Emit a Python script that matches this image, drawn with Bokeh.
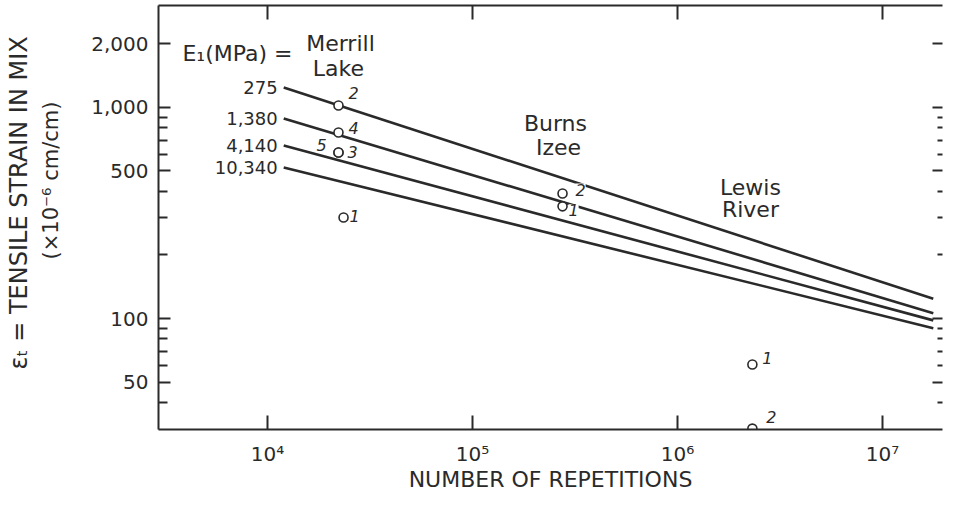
import numpy as np
from bokeh.plotting import figure
from bokeh.models import LogAxis, FixedTicker, NumeralTickFormatter, Label, Range1d, ColumnDataSource, Title
from bokeh.embed import file_html
from bokeh.resources import INLINE
from bokeh.core.properties import value

FONT = "DejaVu Sans"
INK = "#2a2a2a"

# ---------------- data ----------------
modulus_labels = ["275", "1,380", "4,140", "10,340"]
line_reps = [1.2e4, 1.77e7]
strain_275 = [1244, 124]
strain_1380 = [887, 106]
strain_4140 = [661, 98]
strain_10340 = [520, 90]

merrill_reps = [2.22e4, 2.22e4, 2.22e4, 2.22e4, 2.35e4]
merrill_strain = [1022, 761, 612, 612, 301]
merrill_ids = ["2", "4", "3", "5", "1"]

burns_reps = [2.75e5, 2.75e5]
burns_strain = [391, 340]
burns_ids = ["2", "1"]

lewis_reps = [2.32e6, 2.32e6]
lewis_strain = [60.6, 30.1]
lewis_ids = ["1", "2"]

x_ticks = [1e4, 1e5, 1e6, 1e7]
x_tick_labels = ["10\u2074", "10\u2075", "10\u2076", "10\u2077"]
y_ticks = [50, 100, 500, 1000, 2000]
y_minor_ticks = [40, 60, 70, 80, 90, 200, 300, 400, 600, 700, 800, 900]

site_words = ["Merrill", "Lake", "Burns", "Izee", "Lewis", "River"]
site_word_x = [2.27e4, 2.22e4, 2.54e5, 2.63e5, 2.27e6, 2.27e6]
site_word_y = [2010, 1531, 840, 646, 418, 329]

# label offsets (screen px) for the specimen numbers
merrill_dx = [15, 15, 14, -17, 11]
merrill_dy = [-12, -4, 0, -7, -2]
burns_dx = [18, 11]
burns_dy = [-4, 4]
lewis_dx = [15, 19]
lewis_dy = [-6, -12]

# ---------------- figure ----------------
p = figure(width=943, height=494, x_axis_type="log", y_axis_type="log",
           x_range=Range1d(2940, 1.963e7), y_range=Range1d(29.8, 3041),
           output_backend="svg", toolbar_location=None,
           min_border_left=158, min_border_right=1, min_border_top=5,
           min_border_bottom=65)
p.grid.visible = False
p.outline_line_color = None
p.background_fill_color = "white"
p.border_fill_color = "white"

xt = FixedTicker(ticks=x_ticks, minor_ticks=[])
yt = FixedTicker(ticks=y_ticks, minor_ticks=y_minor_ticks)

xa = p.xaxis[0]
xa.ticker = xt
xa.major_label_overrides = dict(zip(x_ticks, x_tick_labels))
xa.major_tick_in = 14
xa.major_tick_out = 0
xa.minor_tick_in = 0
xa.minor_tick_out = 0
xa.major_label_standoff = 12
xa.major_label_text_font = FONT
xa.major_label_text_font_size = "20px"
xa.major_label_text_color = INK
xa.axis_label = "NUMBER OF REPETITIONS"
xa.axis_label_text_font = FONT
xa.axis_label_text_font_size = "22px"
xa.axis_label_text_font_style = "normal"
xa.axis_label_text_color = INK
xa.axis_label_standoff = -2

ya = p.yaxis[0]
ya.ticker = yt
ya.formatter = NumeralTickFormatter(format="0,0")
ya.major_tick_in = 12
ya.major_tick_out = 0
ya.minor_tick_in = 9
ya.minor_tick_out = 0
ya.major_label_standoff = 10
ya.major_label_text_font = FONT
ya.major_label_text_font_size = "20px"
ya.major_label_text_color = INK

top = LogAxis(ticker=xt, major_tick_in=14, major_tick_out=0, minor_tick_in=0, minor_tick_out=0,
              major_label_text_font_size="1px", major_label_text_alpha=0, major_label_standoff=0)
right = LogAxis(ticker=yt, major_tick_in=10, major_tick_out=0, minor_tick_in=5, minor_tick_out=0,
                major_label_text_font_size="1px", major_label_text_alpha=0, major_label_standoff=0)
p.add_layout(top, "above")
p.add_layout(right, "right")

for a in [xa, ya, top, right]:
    a.axis_line_width = 2
    a.axis_line_color = INK
    a.major_tick_line_width = 2
    a.major_tick_line_color = INK
    a.minor_tick_line_width = 2
    a.minor_tick_line_color = INK
right.axis_line_color = None

# y-axis title in two lines (units line nearest the axis), with a blank spacer
p.add_layout(Title(text=" ", text_font_size="1px", standoff=21), "left")
p.add_layout(Title(text="(\u00d710\u207b\u2076 cm/cm)", align="left", offset=170,
                   standoff=4, text_font=FONT, text_font_size="21px",
                   text_font_style="normal", text_color=INK), "left")
p.add_layout(Title(text="\u03b5\u209c = TENSILE STRAIN IN MIX", align="left", offset=60,
                   standoff=4, text_font=FONT, text_font_size="24px",
                   text_font_style="normal", text_color=INK), "left")

# ---------------- fatigue lines ----------------
for ys in [strain_275, strain_1380, strain_4140, strain_10340]:
    p.line(line_reps, ys, line_width=2.6, line_color=INK)

starts = [s[0] for s in [strain_275, strain_1380, strain_4140, strain_10340]]
p.text(x=[line_reps[0]] * len(starts), y=starts, text=modulus_labels, x_offset=-6,
       text_align="right", text_baseline="middle", text_font=value(FONT),
       text_font_size="18px", text_color=INK)

# ---------------- specimen points ----------------
pts = ColumnDataSource(dict(
    x=merrill_reps + burns_reps + lewis_reps,
    y=merrill_strain + burns_strain + lewis_strain,
    t=merrill_ids + burns_ids + lewis_ids,
    dx=merrill_dx + burns_dx + lewis_dx,
    dy=merrill_dy + burns_dy + lewis_dy,
))
p.scatter("x", "y", source=pts, marker="circle", size=9, fill_color="white",
          line_color=INK, line_width=1.6)
p.text("x", "y", text="t", source=pts, x_offset="dx", y_offset="dy",
       text_align="center", text_baseline="middle", text_font=value(FONT),
       text_font_size="16px", text_font_style="italic", text_color=INK,
       background_fill_color="white")

# ---------------- annotations ----------------
p.text(x=site_word_x, y=site_word_y, text=site_words, text_align="center",
       text_baseline="middle", text_font=value(FONT), text_font_size="22px",
       text_color=INK)
p.add_layout(Label(x=1.324e4, y=1803, text="E\u2081(MPa) =", text_align="right",
                   text_baseline="middle", text_font=FONT, text_font_size="22px",
                   text_color=INK))

open("out.html", "w").write(file_html(p, INLINE))
